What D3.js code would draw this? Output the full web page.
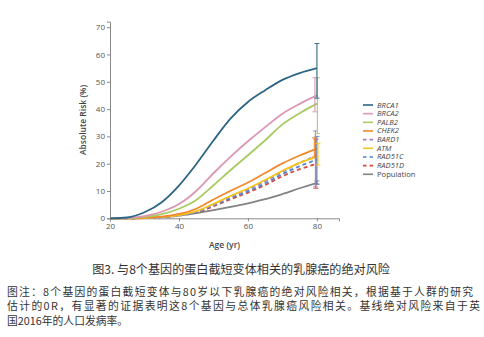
<!DOCTYPE html>
<html>
<head>
<meta charset="utf-8">
<script src="https://cdn.jsdelivr.net/npm/d3@7"></script>
<style>
  body { margin: 0; background: #fff; }
  svg { display: block; }
</style>
</head>
<body>
<div id="chart"></div>
<script>
// ages sampled every 5 years
var ages = [20, 25, 30, 35, 40, 45, 50, 55, 60, 65, 70, 75, 80];

var genes = ["BRCA1", "BRCA2", "PALB2", "CHEK2", "BARD1", "ATM", "RAD51C", "RAD51D", "Population"];
var colors = ["#2d6585", "#dc97b4", "#a8cb62", "#f0892e", "#a580c2", "#f4c51c", "#4f87c9", "#db4a3c", "#838383"];
var dashed = [false, false, false, false, true, false, true, true, false];

// cumulative absolute risk (%) by age
var brca1 = [0, 0.3, 2.2, 5.9, 12, 19.8, 28.5, 36.6, 42.6, 46.9, 50.7, 53.2, 55];
var brca2 = [0, 0.1, 0.8, 2.4, 5.2, 10, 16.5, 22.6, 28.2, 33.4, 38.3, 41.9, 45];
var palb2 = [0, 0, 0.5, 1.5, 3.5, 6.7, 12.1, 17.7, 23.1, 28.6, 34.4, 38.5, 42];
var chek2 = [0, 0, 0.2, 0.6, 1.6, 3.5, 6.9, 10.1, 13.1, 16.6, 20.1, 23, 25.5];
var bard1 = [0, 0, 0.1, 0.5, 1.1, 2.4, 5, 7.9, 10.5, 13.6, 17, 20.3, 23];
var atm = [0, 0, 0.1, 0.5, 1.2, 2.6, 5.3, 8.2, 10.9, 14, 17.4, 20.3, 22.5];
var rad51c = [0, 0, 0.1, 0.4, 1, 2.2, 4.7, 7.4, 9.9, 12.8, 16.2, 19.1, 21.5];
var rad51d = [0, 0, 0.1, 0.4, 1, 2.1, 4.4, 7, 9.4, 12.2, 15.4, 18, 20];
var population = [0, 0, 0.1, 0.4, 1, 1.9, 3, 4.2, 5.5, 7, 8.9, 11, 13];
var series = [brca1, brca2, palb2, chek2, bard1, atm, rad51c, rad51d, population];

// 95% interval at age 80
var ciLow = [44, 39, 31, 22.5, 11.5, 19.5, 12.5, 11, 12.5];
var ciHigh = [64, 51.5, 51.5, 29.5, 32, 27.5, 30, 29, 13.7];

var xTicks = [20, 40, 60, 80];
var yTicks = [0, 10, 20, 30, 40, 50, 60, 70];

var title = "图3. 与8个基因的蛋白截短变体相关的乳腺癌的绝对风险";
var note = [
  "图注：8个基因的蛋白截短变体与80岁以下乳腺癌的绝对风险相关，根据基于人群的研究",
  "估计的0R，有显著的证据表明这8个基因与总体乳腺癌风险相关。基线绝对风险来自于英",
  "国2016年的人口发病率。"
];

var width = 484, height = 337;

var svg = d3.select("#chart").append("svg")
    .attr("width", width)
    .attr("height", height);

var x = d3.scaleLinear().domain([20, 86.4]).range([110, 339]);
var y = d3.scaleLinear().domain([0, 72]).range([218.3, 21.7]);

var axisFont = "'Open Sans', 'DejaVu Sans', sans-serif";

// axes
var xAxis = svg.append("g")
    .attr("transform", "translate(0," + y(0) + ")")
    .call(d3.axisBottom(x).tickValues(xTicks).tickSize(3).tickPadding(2));
var yAxis = svg.append("g")
    .attr("transform", "translate(" + x(20) + ",0)")
    .call(d3.axisLeft(y).tickValues(yTicks).tickSize(3).tickPadding(2));

[xAxis, yAxis].forEach(function (g) {
  g.select(".domain").attr("stroke", "#8a8a8a").attr("stroke-width", 1);
  g.selectAll(".tick line").attr("stroke", "#8a8a8a");
  g.selectAll(".tick text")
    .attr("fill", "#555")
    .style("font-family", axisFont)
    .style("font-size", "8px");
});

var xMid = (x.range()[0] + x.range()[1]) / 2;
var yMid = (y.range()[0] + y.range()[1]) / 2;

svg.append("text")
    .attr("transform", "translate(86," + yMid + ") rotate(-90)")
    .attr("text-anchor", "middle")
    .style("font-family", axisFont)
    .style("font-size", "8.5px")
    .style("font-weight", "600")
    .attr("fill", "#444")
    .text("Absolute Risk (%)");

svg.append("text")
    .attr("x", xMid)
    .attr("y", 248)
    .attr("text-anchor", "middle")
    .style("font-family", axisFont)
    .style("font-size", "8.5px")
    .style("font-weight", "600")
    .attr("fill", "#444")
    .text("Age (yr)");

// risk curves, drawn bottom-up so BRCA1 ends on top
var order = [8, 7, 6, 4, 5, 3, 2, 1, 0];
var line = d3.line()
    .x(function (d, i) { return x(ages[i]); })
    .y(function (d) { return y(d); })
    .curve(d3.curveMonotoneX);

svg.append("g").selectAll("path")
    .data(order)
    .enter()
    .append("path")
    .attr("d", function (k) { return line(series[k]); })
    .attr("fill", "none")
    .attr("stroke", function (k) { return colors[k]; })
    .attr("stroke-width", 1.8)
    .attr("stroke-dasharray", function (k) { return dashed[k] ? "4,3" : null; });

// error bars at age 80, nudged sideways a little so they don't sit on top of each other
var nudge = [0, -2, 0.5, -2.5, -1.5, 1, 0, -1, 0];
var bars = svg.append("g").selectAll("g")
    .data(order)
    .enter()
    .append("g")
    .attr("stroke", function (k) { return colors[k]; })
    .attr("stroke-width", 1.2)
    .attr("opacity", 0.9);

bars.append("line")
    .attr("x1", function (k) { return x(80) + nudge[k]; })
    .attr("x2", function (k) { return x(80) + nudge[k]; })
    .attr("y1", function (k) { return y(ciLow[k]); })
    .attr("y2", function (k) { return y(ciHigh[k]); });

bars.selectAll(".cap")
    .data(function (k) { return [[k, ciLow[k]], [k, ciHigh[k]]]; })
    .enter()
    .append("line")
    .attr("class", "cap")
    .attr("x1", function (d) { return x(80) + nudge[d[0]] - 2.5; })
    .attr("x2", function (d) { return x(80) + nudge[d[0]] + 2.5; })
    .attr("y1", function (d) { return y(d[1]); })
    .attr("y2", function (d) { return y(d[1]); })
    .attr("stroke-width", 1);

// legend
var legend = svg.append("g").selectAll("g")
    .data(genes)
    .enter()
    .append("g")
    .attr("transform", function (d, i) { return "translate(363," + (105 + i * 8.66) + ")"; });

legend.append("line")
    .attr("x1", 0)
    .attr("x2", 10)
    .attr("stroke", function (d, i) { return colors[i]; })
    .attr("stroke-width", 1.6)
    .attr("stroke-dasharray", function (d, i) { return dashed[i] ? "3.5,3" : null; });

legend.append("text")
    .attr("x", 14)
    .attr("dy", "0.33em")
    .style("font-family", axisFont)
    .style("font-size", "7.6px")
    .style("font-style", function (d) { return d === "Population" ? "normal" : "italic"; })
    .attr("fill", "#444")
    .text(function (d) { return d; });

// caption
var cjk = "'Noto Sans CJK SC', sans-serif";

svg.append("text")
    .attr("x", 241)
    .attr("y", 274)
    .attr("text-anchor", "middle")
    .style("font-family", cjk)
    .style("font-size", "12.1px")
    .attr("fill", "#333")
    .text(title);

// the first two caption lines are justified to the full width
var noteWidths = [466, 473, null];
svg.selectAll(".note")
    .data(note)
    .enter()
    .append("text")
    .attr("class", "note")
    .attr("x", 7)
    .attr("y", function (d, i) { return 296 + i * 14.3; })
    .attr("textLength", function (d, i) { return noteWidths[i]; })
    .attr("lengthAdjust", "spacing")
    .style("font-family", cjk)
    .style("font-size", "10.8px")
    .attr("fill", "#333")
    .text(function (d) { return d; });
</script>
</body>
</html>
